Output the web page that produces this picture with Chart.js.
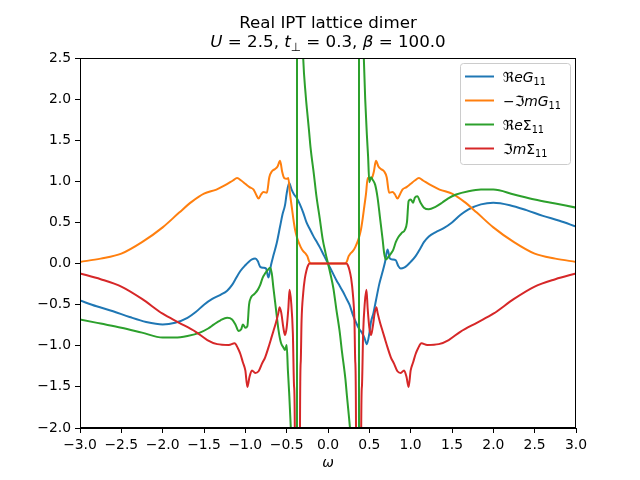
<!DOCTYPE html>
<html><head><meta charset="utf-8">
<script src="https://cdn.jsdelivr.net/npm/chart.js@4.4.0/dist/chart.umd.min.js"></script>
<style>html,body{margin:0;padding:0;background:#fff;}</style>
</head><body>
<canvas id="c" width="640" height="480"></canvas>
<script>
// ---- data ----
const omegaReG = [-3.0,-2.8,-2.6,-2.4,-2.2,-2.0,-1.85,-1.7,-1.6,-1.5,-1.4,-1.3,-1.22,-1.16,-1.12,-1.06,-1.0,-0.96,-0.92,-0.88,-0.85,-0.82,-0.78,-0.75,-0.72,-0.69,-0.66,-0.62,-0.58,-0.55,-0.52,-0.50,-0.47,-0.44,-0.41,-0.38,-0.34,-0.30,-0.26,-0.22,-0.18,-0.14,-0.10,-0.06,-0.03,0,
  0.03,0.06,0.10,0.14,0.18,0.22,0.26,0.30,0.34,0.38,0.41,0.44,0.47,0.50,0.52,0.55,0.58,0.62,0.66,0.69,0.72,0.75,0.78,0.82,0.85,0.88,0.92,0.96,1.0,1.06,1.12,1.16,1.22,1.3,1.4,1.5,1.6,1.7,1.85,2.0,2.2,2.4,2.6,2.8,3.0];
const valReG = [-0.45,-0.52,-0.58,-0.65,-0.71,-0.74,-0.72,-0.66,-0.59,-0.50,-0.43,-0.38,-0.33,-0.26,-0.19,-0.09,-0.02,0.02,0.05,0.06,0.03,-0.04,-0.05,-0.06,-0.17,-0.02,0.10,0.25,0.45,0.60,0.71,0.85,0.98,0.90,0.84,0.80,0.72,0.62,0.50,0.42,0.34,0.27,0.20,0.12,0.06,0,
  -0.06,-0.12,-0.20,-0.27,-0.34,-0.42,-0.50,-0.62,-0.72,-0.80,-0.84,-0.90,-0.98,-0.85,-0.71,-0.60,-0.45,-0.25,-0.10,0.02,0.17,0.06,0.05,0.04,-0.03,-0.06,-0.05,-0.02,0.02,0.09,0.19,0.26,0.33,0.38,0.43,0.50,0.59,0.66,0.72,0.74,0.71,0.65,0.58,0.52,0.45];

const omegaImG = [-3.0,-2.75,-2.5,-2.25,-2.0,-1.8,-1.65,-1.5,-1.35,-1.25,-1.15,-1.10,-1.05,-1.0,-0.95,-0.90,-0.87,-0.84,-0.81,-0.78,-0.74,-0.71,-0.68,-0.64,-0.61,-0.58,-0.555,-0.53,-0.50,-0.48,-0.46,-0.44,-0.42,-0.40,-0.37,-0.33,-0.30,-0.27,-0.25,-0.23,-0.21,0,
  0.21,0.23,0.25,0.27,0.30,0.33,0.37,0.40,0.42,0.44,0.46,0.48,0.50,0.53,0.555,0.58,0.61,0.64,0.68,0.71,0.74,0.78,0.81,0.84,0.87,0.90,0.95,1.0,1.05,1.10,1.15,1.25,1.35,1.5,1.65,1.8,2.0,2.25,2.5,2.75,3.0];
const valImG = [0.02,0.06,0.12,0.26,0.44,0.62,0.75,0.85,0.90,0.95,1.01,1.04,1.01,0.97,0.93,0.90,0.84,0.79,0.84,0.87,0.86,1.05,1.12,1.15,1.18,1.25,1.12,1.04,1.03,1.04,0.85,0.70,0.55,0.42,0.30,0.20,0.15,0.12,0.09,0.03,0,0,
  0,0.03,0.09,0.12,0.15,0.20,0.30,0.42,0.55,0.70,0.85,1.04,1.03,1.04,1.12,1.25,1.18,1.15,1.12,1.05,0.86,0.87,0.84,0.79,0.84,0.90,0.93,0.97,1.01,1.04,1.01,0.95,0.90,0.85,0.75,0.62,0.44,0.26,0.12,0.06,0.02];

const omegaReS = [-3.0,-2.75,-2.5,-2.25,-2.0,-1.85,-1.7,-1.55,-1.45,-1.38,-1.30,-1.22,-1.16,-1.12,-1.08,-1.05,-1.03,-1.0,-0.975,-0.955,-0.93,-0.89,-0.85,-0.82,-0.79,-0.76,-0.73,-0.70,-0.68,-0.66,-0.63,-0.60,-0.57,-0.54,-0.52,-0.50,-0.485,-0.47,-0.45,-0.43,-0.41,-0.39,-0.38,-0.376,-0.374,-0.37,-0.36,-0.34,-0.32,-0.30,-0.27,-0.255,-0.23,-0.21,-0.17,-0.14,-0.10,-0.065,-0.03,0,
  0.03,0.065,0.10,0.14,0.17,0.21,0.23,0.255,0.27,0.30,0.32,0.34,0.36,0.37,0.374,0.376,0.38,0.39,0.41,0.43,0.45,0.47,0.485,0.50,0.52,0.54,0.57,0.60,0.63,0.66,0.68,0.70,0.73,0.76,0.79,0.82,0.85,0.89,0.93,0.955,0.975,1.0,1.03,1.05,1.08,1.12,1.16,1.22,1.30,1.38,1.45,1.55,1.7,1.85,2.0,2.25,2.5,2.75,3.0];
const valReS = [-0.68,-0.73,-0.78,-0.84,-0.90,-0.90,-0.88,-0.84,-0.79,-0.74,-0.69,-0.66,-0.68,-0.74,-0.82,-0.80,-0.74,-0.78,-0.76,-0.50,-0.41,-0.37,-0.32,-0.26,-0.17,-0.12,-0.08,-0.05,-0.12,-0.30,-0.55,-0.80,-0.96,-1.02,-1.05,-0.99,-1.30,-1.57,-2.0,-2.6,-3.5,-6,-12,-40,40,15,8,4.5,3.2,2.5,2.05,1.88,1.62,1.40,1.08,0.82,0.55,0.30,0.13,0,
  -0.13,-0.30,-0.55,-0.82,-1.08,-1.40,-1.62,-1.88,-2.05,-2.5,-3.2,-4.5,-8,-15,-40,40,12,6,3.5,2.6,2.0,1.57,1.30,0.99,1.05,1.02,0.96,0.80,0.55,0.30,0.12,0.05,0.08,0.12,0.17,0.26,0.32,0.37,0.41,0.50,0.76,0.78,0.74,0.80,0.82,0.74,0.68,0.66,0.69,0.74,0.79,0.84,0.88,0.90,0.90,0.84,0.78,0.73,0.68];

const omegaImS = [-3.0,-2.75,-2.5,-2.25,-2.0,-1.8,-1.6,-1.46,-1.34,-1.2,-1.13,-1.09,-1.06,-1.03,-1.0,-0.975,-0.95,-0.92,-0.88,-0.84,-0.80,-0.76,-0.72,-0.69,-0.66,-0.63,-0.60,-0.585,-0.565,-0.54,-0.52,-0.50,-0.48,-0.465,-0.445,-0.425,-0.41,-0.40,-0.395,-0.345,-0.34,-0.33,-0.32,-0.30,-0.28,-0.26,-0.24,-0.22,0,
  0.22,0.24,0.26,0.28,0.30,0.32,0.33,0.34,0.345,0.395,0.40,0.41,0.425,0.445,0.465,0.48,0.50,0.52,0.54,0.565,0.585,0.60,0.63,0.66,0.69,0.72,0.76,0.80,0.84,0.88,0.92,0.95,0.975,1.0,1.03,1.06,1.09,1.13,1.2,1.34,1.46,1.6,1.8,2.0,2.25,2.5,2.75,3.0];
const valImS = [-0.12,-0.19,-0.28,-0.43,-0.61,-0.72,-0.83,-0.93,-0.98,-0.99,-0.97,-1.03,-1.10,-1.20,-1.30,-1.50,-1.38,-1.30,-1.33,-1.31,-1.22,-1.14,-1.02,-0.92,-0.82,-0.72,-0.60,-0.53,-0.60,-0.78,-0.87,-0.78,-0.55,-0.32,-0.48,-0.85,-1.5,-2.3,-20,-20,-2.3,-1.2,-0.70,-0.36,-0.18,-0.08,-0.02,0,0,
  0,-0.02,-0.08,-0.18,-0.36,-0.70,-1.2,-2.3,-20,-20,-2.3,-1.5,-0.85,-0.48,-0.32,-0.55,-0.78,-0.87,-0.78,-0.60,-0.53,-0.60,-0.72,-0.82,-0.92,-1.02,-1.14,-1.22,-1.31,-1.33,-1.30,-1.38,-1.50,-1.30,-1.20,-1.10,-1.03,-0.97,-0.99,-0.98,-0.93,-0.83,-0.72,-0.61,-0.43,-0.28,-0.19,-0.12];

const xTicks = [-3.0,-2.5,-2.0,-1.5,-1.0,-0.5,0.0,0.5,1.0,1.5,2.0,2.5,3.0];
const yTicks = [-2.0,-1.5,-1.0,-0.5,0.0,0.5,1.0,1.5,2.0,2.5];
const seriesNames = ['\u211CeG\u2081\u2081', '\u2212\u2111mG\u2081\u2081', '\u211Ce\u03A3\u2081\u2081', '\u2111m\u03A3\u2081\u2081'];
const seriesColors = ['#1f77b4', '#ff7f0e', '#2ca02c', '#d62728'];
const titleLine1 = 'Real IPT lattice dimer';
const xAxisLabel = '\u03C9';

// ---- rich text pieces (math-like labels) ----
const titleLine2 = [{t:'U',it:1},{t:' = 2.5, '},{t:'t',it:1},{t:'\u22A5',sub:1},{t:' = 0.3, '},{t:'\u03B2',it:1},{t:' = 100.0'}];
const legendSegs = [
  [{t:'\u211C'},{t:'e',it:1},{t:'G',it:1},{t:'11',sub:1}],
  [{t:'\u2212\u2111'},{t:'m',it:1},{t:'G',it:1},{t:'11',sub:1}],
  [{t:'\u211C'},{t:'e',it:1},{t:'\u03A3'},{t:'11',sub:1}],
  [{t:'\u2111'},{t:'m',it:1},{t:'\u03A3'},{t:'11',sub:1}]
];

const FAM = "'DejaVu Sans'";
function segFont(s, size){ const sz = s.sub ? size*0.7 : size; return (s.it?'italic ':'') + sz.toFixed(2) + 'px ' + FAM; }
function segWidth(ctx, segs, size){ let w=0; for(const s of segs){ ctx.font=segFont(s,size); w+=ctx.measureText(s.t).width; } return w; }
function drawSegs(ctx, segs, x, y, size){
  let cx=x; ctx.textAlign='left'; ctx.textBaseline='alphabetic';
  for(const s of segs){ ctx.font=segFont(s,size); ctx.fillText(s.t, cx, y + (s.sub? size*0.22 : 0)); cx += ctx.measureText(s.t).width; }
}
const fmt = v => (v < 0 ? '\u2212' : '') + Math.abs(v).toFixed(1);
const mk = (xs, ys) => xs.map((x, i) => ({x: x, y: ys[i]}));

const deco = {
  id: 'deco',
  afterDraw(chart){
    const ctx = chart.ctx, a = chart.chartArea;
    ctx.save();
    // frame (spines)
    ctx.strokeStyle = '#000'; ctx.lineWidth = 1;
    ctx.strokeRect(Math.round(a.left)+0.5, Math.round(a.top)+0.5, Math.round(a.right-a.left)-1, Math.round(a.bottom-a.top)-1);
    // title
    ctx.fillStyle = '#000';
    const cx = (a.left + a.right) / 2, ts = 16.7;
    ctx.font = ts + 'px ' + FAM; ctx.textAlign = 'center'; ctx.textBaseline = 'alphabetic';
    ctx.fillText(titleLine1, cx, 28);
    const w2 = segWidth(ctx, titleLine2, ts);
    drawSegs(ctx, titleLine2, cx - w2/2, 47, ts);
    // x label
    ctx.font = 'italic 13.9px ' + FAM; ctx.textAlign = 'center';
    ctx.fillText(xAxisLabel, cx, 467);
    // legend
    const bx = 460.5, by = 63.5, bw = 110, bh = 101;
    ctx.beginPath(); ctx.roundRect(bx, by, bw, bh, 3);
    ctx.fillStyle = 'rgba(255,255,255,0.8)'; ctx.fill();
    ctx.strokeStyle = '#cccccc'; ctx.lineWidth = 1; ctx.stroke();
    for (let i = 0; i < 4; i++){
      const ly = 76.5 + i * 24;
      ctx.strokeStyle = seriesColors[i]; ctx.lineWidth = 2;
      ctx.beginPath(); ctx.moveTo(465, ly); ctx.lineTo(494, ly); ctx.stroke();
      ctx.fillStyle = '#000';
      drawSegs(ctx, legendSegs[i], 503, ly + 5, 13.9);
    }
    ctx.restore();
  }
};

const axisCommon = {
  type: 'linear',
  grid: {drawOnChartArea: false, drawTicks: true, tickLength: 5, tickColor: '#000', tickWidth: 1},
  border: {display: true, color: '#000', width: 1},
  ticks: {color: '#000', font: {family: 'DejaVu Sans', size: 13.9}, autoSkip: false, maxRotation: 0, padding: 4,
          callback: (v) => fmt(v)}
};

new Chart(document.getElementById('c'), {
  type: 'line',
  data: {
    datasets: [
      {label: seriesNames[0], data: mk(omegaReG, valReG), borderColor: seriesColors[0], order: 3},
      {label: seriesNames[1], data: mk(omegaImG, valImG), borderColor: seriesColors[1], order: 2},
      {label: seriesNames[2], data: mk(omegaReS, valReS), borderColor: seriesColors[2], order: 1},
      {label: seriesNames[3], data: mk(omegaImS, valImS), borderColor: seriesColors[3], order: 0}
    ]
  },
  options: {
    responsive: false, animation: false, devicePixelRatio: 1,
    layout: {padding: {top: 58, right: 64, left: 0, bottom: 0}},
    elements: {line: {borderWidth: 2, cubicInterpolationMode: 'monotone', fill: false, borderJoinStyle: 'round'}, point: {radius: 0}},
    plugins: {legend: {display: false}, title: {display: false}, tooltip: {enabled: false}},
    scales: {
      x: Object.assign({}, axisCommon, {min: -3, max: 3,
          afterBuildTicks: s => { s.ticks = xTicks.map(v => ({value: v})); },
          afterFit: s => { s.height = 52; }}),
      y: Object.assign({}, axisCommon, {min: -2, max: 2.5,
          afterBuildTicks: s => { s.ticks = yTicks.map(v => ({value: v})); },
          afterFit: s => { s.width = 80; }})
    }
  },
  plugins: [deco]
});
</script>
</body></html>
